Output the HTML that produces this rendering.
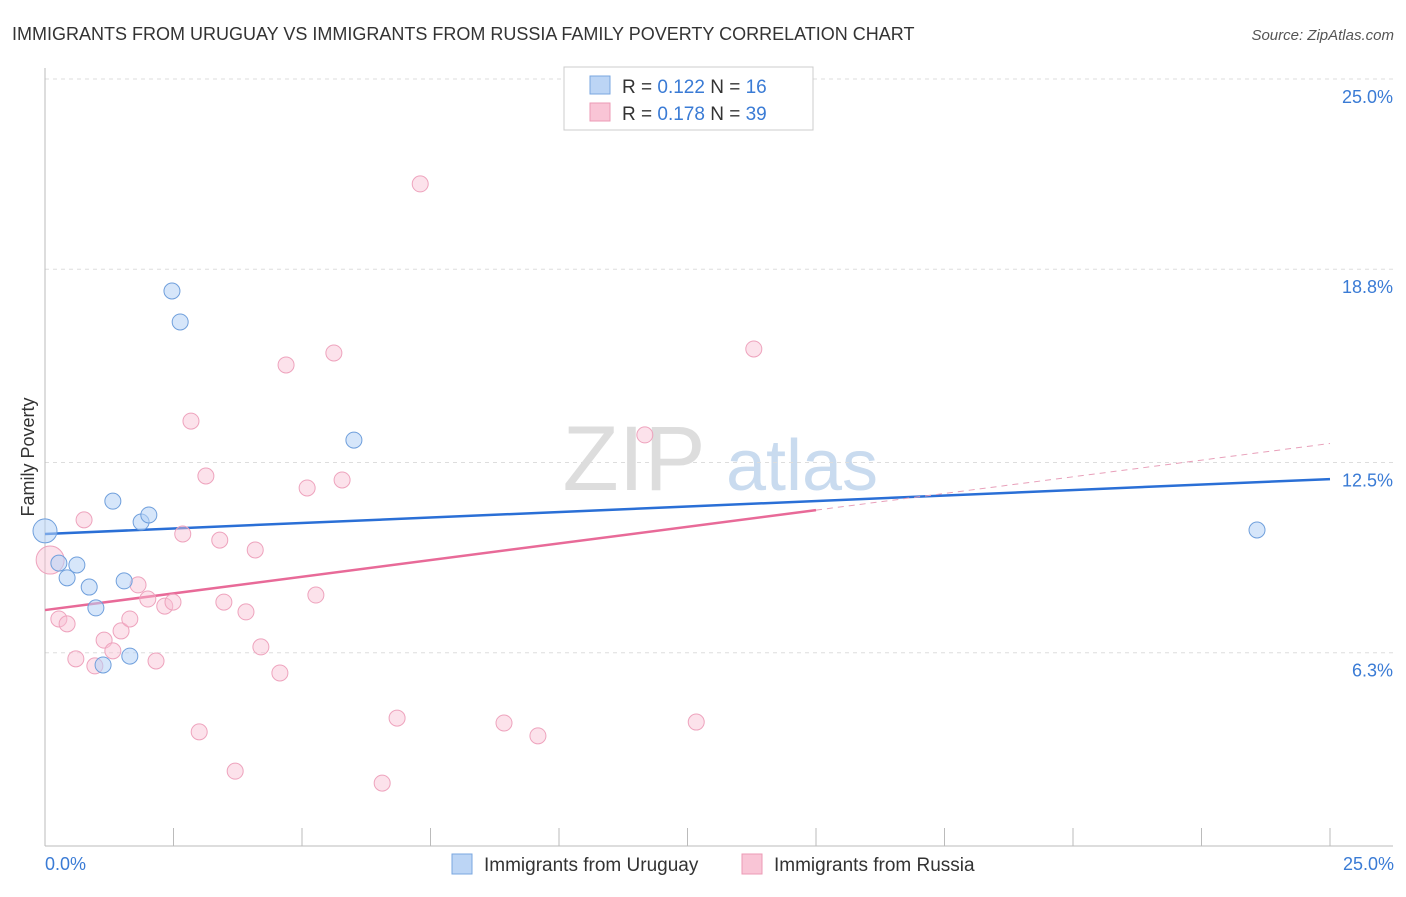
<!DOCTYPE html>
<html><head><meta charset="utf-8"><style>
body{margin:0;background:#fff;font-family:"Liberation Sans",sans-serif;}
svg text{font-family:"Liberation Sans",sans-serif;}
</style></head><body>
<svg id="chart" width="1406" height="892" viewBox="0 0 1406 892">
<text x="12" y="40" font-size="18" fill="#333">IMMIGRANTS FROM URUGUAY VS IMMIGRANTS FROM RUSSIA FAMILY POVERTY CORRELATION CHART</text>
<text x="1394" y="40" font-size="15" fill="#555" font-style="italic" text-anchor="end">Source: ZipAtlas.com</text>
<g>
<text x="634" y="490" font-size="92" fill="#ddd" font-family="Liberation Serif" text-anchor="middle">ZIP</text>
<text x="802" y="490" font-size="72" fill="#c9dbef" text-anchor="middle">atlas</text>
</g>
<g id="grid"></g>
<g id="axes"></g>
<g id="lines"></g>
<g id="points"></g>
<text transform="translate(34,457) rotate(-90)" font-size="18" fill="#333" text-anchor="middle">Family Poverty</text>
<text x="45" y="870" font-size="18" fill="#3a7bd5">0.0%</text>
<text x="1394" y="870" font-size="18" fill="#3a7bd5" text-anchor="end">25.0%</text>
<g>
<rect x="564" y="67" width="249" height="63" fill="#fff" stroke="#ccc"/>
<rect x="590" y="76" width="20" height="18" fill="#bcd5f5" stroke="#7aa7e0"/>
<rect x="590" y="103" width="20" height="18" fill="#f9c5d6" stroke="#ec9ab5"/>
<text x="622" y="93" font-size="19" fill="#333">R = <tspan fill="#3a7bd5">0.122</tspan>   N = <tspan fill="#3a7bd5"> 16</tspan></text>
<text x="622" y="120" font-size="19" fill="#333">R = <tspan fill="#3a7bd5">0.178</tspan>   N = <tspan fill="#3a7bd5">39</tspan></text>
</g>
<g>
<rect x="452" y="854" width="20" height="20" fill="#bcd5f5" stroke="#7aa7e0"/>
<text x="484" y="871" font-size="19" fill="#333">Immigrants from Uruguay</text>
</g>
<g>
<rect x="742" y="854" width="20" height="20" fill="#f9c5d6" stroke="#ec9ab5"/>
<text x="774" y="871" font-size="19" fill="#333">Immigrants from Russia</text>
</g>
</svg>
<script>
const uruguayX=[0,0.27,0.43,0.62,0.86,0.99,1.13,1.32,1.54,1.65,1.87,2.02,2.47,2.63,6.01,23.58];
const uruguayY=[10.27,9.22,8.74,9.16,8.44,7.76,5.90,11.24,8.64,6.19,10.56,10.79,18.09,17.08,13.23,10.30];
const russiaX=[0.1,0.27,0.43,0.60,0.76,0.97,1.15,1.32,1.48,1.65,1.81,2.00,2.16,2.33,2.49,2.68,2.84,3.00,3.13,3.40,3.48,3.70,3.91,4.09,4.20,4.57,4.69,5.10,5.27,5.62,5.78,6.56,6.85,7.30,8.93,9.59,11.67,12.67,13.79];
const russiaY=[9.32,7.40,7.24,6.10,10.63,5.87,6.71,6.36,7.01,7.40,8.51,8.05,6.03,7.82,7.95,10.17,13.85,3.72,12.06,9.97,7.95,2.44,7.63,9.65,6.49,5.64,15.68,11.67,8.18,16.07,11.93,2.05,4.17,21.58,4.01,3.59,13.40,4.04,16.20];
const uruguayTrend=[10.17,11.96];
const russiaTrend=[7.69,13.12];
const russiaSolidEnd=15;
const yTicks=[25,18.8,12.5,6.3];
const yTickLabels=["25.0%","18.8%","12.5%","6.3%"];
const xTicks=[0,2.5,5,7.5,10,12.5,15,17.5,20,22.5,25];
const NS="http://www.w3.org/2000/svg";
const sx=v=>45+v*51.4, sy=v=>846-v*30.68;
function mk(tag,parent,attrs){const e=document.createElementNS(NS,tag);for(const k in attrs)e.setAttribute(k,attrs[k]);document.getElementById(parent).appendChild(e);return e;}
yTicks.forEach((t,i)=>{
 const l=mk('line','grid',{x1:45,x2:1393,y1:sy(t),y2:sy(t),stroke:'#ddd','stroke-dasharray':'4,4'});
 
 
 const tx=mk('text','grid',{x:1393,y:sy(t)+24,'font-size':18,fill:'#3a7bd5','text-anchor':'end'});
 tx.textContent=yTickLabels[i];
 
 
});
let a=mk('line','axes',{x1:45,x2:45,y1:68,y2:846,stroke:'#bbb'});


a=mk('line','axes',{x1:45,x2:1393,y1:846,y2:846,stroke:'#bbb'});


xTicks.forEach(t=>{const l=mk('line','axes',{x1:sx(t),x2:sx(t),y1:828,y2:846,stroke:'#bbb'});
 
 });
let t1=mk('line','lines',{x1:sx(0),y1:sy(uruguayTrend[0]),x2:sx(25),y2:sy(uruguayTrend[1]),stroke:'#2a6fd6','stroke-width':2.5});


const rAt=v=>russiaTrend[0]+(russiaTrend[1]-russiaTrend[0])*v/25;
let t2=mk('line','lines',{x1:sx(0),y1:sy(rAt(0)),x2:sx(russiaSolidEnd),y2:sy(rAt(russiaSolidEnd)),stroke:'#e86a98','stroke-width':2.5});


let t3=mk('line','lines',{x1:sx(russiaSolidEnd),y1:sy(rAt(russiaSolidEnd)),x2:sx(25),y2:sy(rAt(25)),stroke:'#e8a0ba','stroke-width':1,'stroke-dasharray':'6,5'});


russiaX.forEach((x,i)=>{const c=mk('circle','points',{cx:sx(x),cy:sy(russiaY[i]),r:i==0?14:8,fill:'rgba(248,190,210,0.45)',stroke:'#eea3bd','stroke-width':1});
 
 });
uruguayX.forEach((x,i)=>{const c=mk('circle','points',{cx:sx(x),cy:sy(uruguayY[i]),r:i==0?12:8,fill:'rgba(180,210,245,0.55)',stroke:'#6f9fdc','stroke-width':1});
 
 });
</script>
</body></html>
